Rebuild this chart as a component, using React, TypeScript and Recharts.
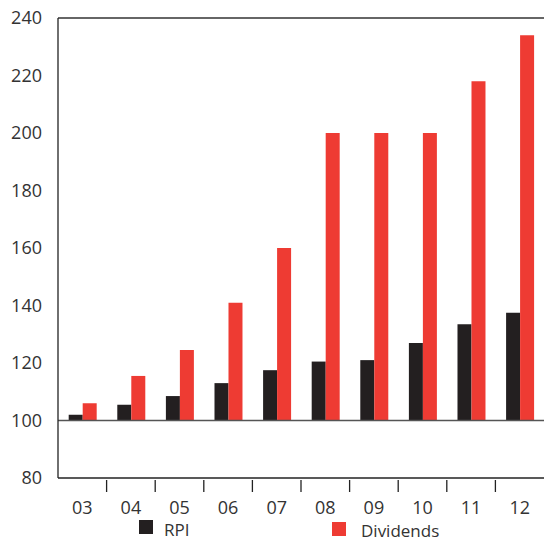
import React from "react";
import { BarChart, Bar, XAxis, YAxis, ReferenceLine } from "recharts";

const years = ["03", "04", "05", "06", "07", "08", "09", "10", "11", "12"];
const rpi = [102, 105.5, 108.5, 113, 117.5, 120.5, 121, 127, 133.5, 137.5];
const dividends = [106, 115.5, 124.5, 141, 160, 200, 200, 200, 218, 234];
const yTicks = [80, 100, 120, 140, 160, 180, 200, 220, 240];

const data = years.map((y, i) => ({ year: y, rpi: [100, rpi[i]], div: [100, dividends[i]] }));
const font = "'Open Sans', sans-serif";

const XTick = (props: any) => {
  const { x, y, payload, index } = props;
  const half = 24.3;
  return (
    <g>
      {index < years.length - 1 && (
        <line x1={x + half} x2={x + half} y1={y - 6} y2={y + 6} stroke="#222" strokeWidth={1.3} />
      )}
      <text x={x} y={y + 28} textAnchor="middle" fill="#333" fontSize={18} fontFamily={font}>
        {payload.value}
      </text>
    </g>
  );
};

export default function App() {
  return (
    <div style={{ position: "absolute", left: 0, top: 0, width: 544, height: 543 }}>
      <BarChart width={544} height={543} data={data} margin={{ top: 18, right: 0, bottom: 0, left: 0 }}
        barGap={0} barCategoryGap="22%">
        <XAxis dataKey="year" tick={<XTick />} tickLine={false} axisLine={{ stroke: "#222", strokeWidth: 1.3 }} interval={0} height={65} />
        <YAxis domain={[80, 240]} ticks={yTicks} width={58} tickLine={false} tickSize={0} tickMargin={16}
          axisLine={{ stroke: "#222", strokeWidth: 1.3 }}
          tick={{ fill: "#333", fontSize: 18, fontFamily: font }} />
        <ReferenceLine y={240} stroke="#666" strokeWidth={2} />
        <Bar dataKey="rpi" fill="#231f20" isAnimationActive={false} />
        <Bar dataKey="div" fill="#ee3b33" isAnimationActive={false} />
        <ReferenceLine y={100} stroke="#555" strokeWidth={1.5} />
      </BarChart>
      <div style={{ position: "absolute", left: 139, top: 520, width: 14, height: 14, background: "#231f20" }} />
      <div style={{ position: "absolute", left: 164, top: 521, fontFamily: font, fontSize: 17, color: "#333", lineHeight: "18px" }}>RPI</div>
      <div style={{ position: "absolute", left: 332, top: 522, width: 14, height: 14, background: "#ee3b33" }} />
      <div style={{ position: "absolute", left: 361, top: 522, fontFamily: font, fontSize: 17, color: "#333", lineHeight: "18px" }}>Dividends</div>
    </div>
  );
}
